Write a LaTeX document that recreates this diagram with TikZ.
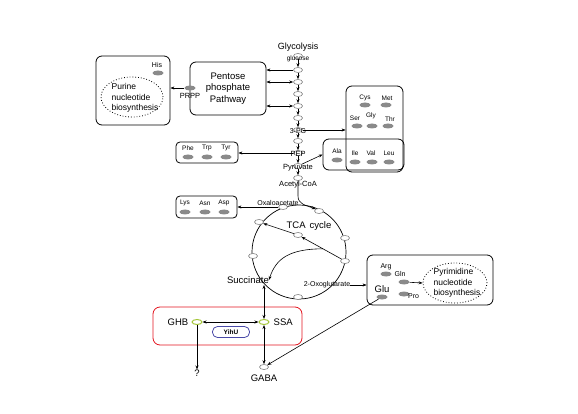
\documentclass[tikz,border=0pt]{standalone}
\usepackage{fontspec}
\setmainfont{Liberation Sans}
\usetikzlibrary{arrows.meta, positioning, calc, shapes.geometric}
\definecolor{cgray}{HTML}{8A8A8A}
\definecolor{cgreen}{HTML}{A4C639}
\definecolor{cblue}{HTML}{4A4AA8}
\definecolor{cred}{HTML}{E3141E}

\tikzset{
  met/.style={ellipse, draw=gray, fill=white, line width=0.6pt, minimum width=9pt, minimum height=5pt, inner sep=0pt},
  aa/.style={ellipse, fill=cgray, minimum width=11pt, minimum height=5pt, inner sep=0pt},
  hb/.style={ellipse, draw=cgreen, fill=white, line width=1pt, minimum width=10pt, minimum height=5pt, inner sep=0pt},
  panel/.style={draw, line width=0.8pt, rounded corners=6pt, inner sep=0pt},
  lbl/.style={font=\fontsize{7}{8}\selectfont, inner sep=0pt},
  aalbl/.style={font=\fontsize{6.5}{7}\selectfont, inner sep=0pt},
  big/.style={font=\fontsize{9.5}{11}\selectfont, inner sep=0pt},
  arr/.style={line width=0.6pt, -{Stealth[length=4pt,width=3pt]}},
  arrs/.style={line width=0.6pt, {Stealth[length=4pt,width=3pt]}-{Stealth[length=4pt,width=3pt]}},
}

\begin{document}
\begin{tikzpicture}[x=1pt, y=-1pt]
  \useasboundingbox (0,0) rectangle (578,414);

  % glycolysis chain
  \node[big, font=\fontsize{9}{10}\selectfont] (glyco) at (298,47) {Glycolysis};
  \foreach \n/\y in {0/56,1/70,2/82,3/94,4/106,5/118,6/130,7/141,8/153,9/166,10/178}
    \node[met] (g\n) at (298,\y) {};
  \foreach \a [evaluate=\a as \b using int(\a+1)] in {0,...,9}
    \draw[arr] (g\a) -- (g\b);
  \node[lbl, font=\fontsize{6.5}{7}\selectfont] (glc) at (298,59) {glucose};
  \node[lbl] (pg) at (298,131) {3-PG};
  \node[lbl, font=\fontsize{7.5}{8}\selectfont] (pep) at (298,154) {PEP};
  \node[lbl, font=\fontsize{7.5}{8}\selectfont] (pyr) at (298,168) {Pyruvate};
  \node[lbl, font=\fontsize{7.5}{8}\selectfont] (acoa) at (298,185) {Acetyl-CoA};

  % pentose phosphate pathway and purines
  \node[panel, minimum width=76pt, minimum height=53pt, align=center,
        font=\fontsize{9.5}{11.5}\selectfont] (ppp) at (228,88.5) {Pentose\\phosphate\\Pathway};
  \draw[arr] (g1) -- (g1 -| ppp.east);
  \draw[arrs] (g2 -| ppp.east) -- (g2);
  \draw[arrs] (g4 -| ppp.east) -- (g4);
  \node[panel, minimum width=74pt, minimum height=69pt] (purbox) at (133,90.5) {};
  \node[ellipse, draw, dotted, line width=0.8pt, minimum width=62pt, minimum height=40pt, inner sep=0pt] (purine) at (132,97) {};
  \node[align=left, font=\fontsize{8.5}{10.5}\selectfont, inner sep=0pt] (purtxt) at (135,98) {Purine\\nucleotide\\biosynthesis};
  \node[aalbl, font=\fontsize{7}{8}\selectfont] (hislbl) at (157,65) {His};
  \node[aa] (his) at (158,73) {};
  \node[aa] (prpp) at (190,88) {};
  \node[lbl, font=\fontsize{7.5}{8}\selectfont] (prpplbl) at (190,96) {PRPP};
  \draw[arr] (prpp) -- (purbox.east |- prpp);

  % amino acids from 3-PG and pyruvate
  \node[panel, minimum width=57pt, minimum height=86pt] (cysbox) at (374.5,129) {};
  \node[panel, minimum width=81pt, minimum height=31pt] (alabox) at (363.5,154.5) {};
  \foreach \t/\x/\y in {Cys/365/98, Met/387/98, Ser/355/118, Gly/371/116, Thr/390/119,
                        Ala/337/151, Ile/355/153, Val/371/153, Leu/389/153}
    \node[aalbl] (l\t) at (\x,\y) {\t};
  \foreach \t/\x/\y in {Cys/365/105, Met/386/105, Ser/357/126, Gly/372/126, Thr/388/126,
                        Ala/337/160, Ile/355/162, Val/372/162, Leu/389/162}
    \node[aa] (\t) at (\x,\y) {};
  \draw[arr] (g6) -- (cysbox.west |- g6);
  \draw[arr] (g9) -- (alabox.west);

  % aromatic amino acids from PEP
  \node[panel, rounded corners=4pt, minimum width=62pt, minimum height=21pt] (phebox) at (207,152.5) {};
  \foreach \t/\x in {Phe/188, Trp/207, Tyr/226} {
    \node[aalbl] (l\t) at (\x,148) {\t};
    \node[aa] (\t) at (\x,157) {};
  }
  \draw[arr] (g8) -- (phebox.east |- g8);

  % TCA cycle
  \draw[line width=0.7pt] (299,252) circle (47pt);
  \foreach \n/\x/\y in {1/283/207, 2/319/211, 3/345/238, 4/345/261, 5/298/297, 6/253/256, 7/259/222, in/298/235}
    \node[met] (t\n) at (\x,\y) {};
  \node[big, font=\fontsize{9.5}{11}\selectfont] (tca) at (309,226) {TCA\hspace{4pt}cycle};
  \draw[arr] (g10) -- (298,196) .. controls (298,204) and (305,205) .. (t2.north west);
  \node[lbl] (oaa) at (278,203) {Oxaloacetate};
  \node[panel, rounded corners=4pt, minimum width=61pt, minimum height=22pt] (lysbox) at (206.5,207) {};
  \foreach \t/\x in {Lys/185, Asn/205, Asp/224} {
    \node[aalbl] (l\t) at (\x,203) {\t};
    \node[aa] (\t) at (\x,212) {};
  }
  \draw[arr] (t1) -- (lysbox.east |- t1);
  \draw[arr] (t4) -- (tin);
  \draw[arr] (tin) -- (t7);
  \coordinate (branch) at ($(t4)!0.47!(tin)$);
  \node[big, anchor=east] (succ) at (269,280) {Succinate};
  \coordinate (succpt) at (264,285);
  \draw[arr] (branch) .. controls (290,249) and (276,258) .. (succ.east);
  \node[lbl] (oxg) at (327,285) {2-Oxoglutarate};

  % glutamate family and pyrimidines
  \node[panel, minimum width=126pt, minimum height=50pt] (glubox) at (430,280) {};
  \draw[arr] (oxg.east) -- (glubox.west |- oxg);
  \node[aalbl, font=\fontsize{7}{8}\selectfont] (lArg) at (386,267) {Arg};
  \node[aa] (Arg) at (386,274) {};
  \node[aalbl, font=\fontsize{7}{8}\selectfont] (lGln) at (400,274) {Gln};
  \node[aa] (Gln) at (404,282) {};
  \node[big, font=\fontsize{9.5}{11}\selectfont] (lGlu) at (382,289) {Glu};
  \node[aa] (Glu) at (382,297) {};
  \node[aa] (Pro) at (404,294) {};
  \node[aalbl, font=\fontsize{7}{8}\selectfont, anchor=west] (lPro) at (408,296) {Pro};
  \node[ellipse, draw, dotted, line width=0.8pt, minimum width=64pt, minimum height=40pt, inner sep=0pt] (pyrim) at (455,283) {};
  \node[align=left, font=\fontsize{8.5}{10.5}\selectfont, inner sep=0pt] (pyrtxt) at (457,283) {Pyrimidine\\nucleotide\\biosynthesis};
  \draw[arr] (Gln) -- (pyrim.west);

  % GABA shunt
  \node[draw=cred, line width=0.8pt, rounded corners=7pt, minimum width=149pt, minimum height=38pt] (redbox) at (227.5,326) {};
  \node[hb] (ghb) at (197,322) {};
  \node[hb] (ssa) at (264,322) {};
  \node[big, left=3pt of ghb] (ghblbl) {GHB};
  \node[big, right=4pt of ssa] (ssalbl) {SSA};
  \node[draw=cblue, line width=0.8pt, rounded corners=5pt, minimum width=37pt, minimum height=11pt,
        inner sep=0pt, font=\bfseries\fontsize{6.5}{7}\selectfont] (yihu) at (231,332) {YihU};
  \draw[arrs] (ghb) -- (ssa);
  \node[big] (unk) at (197,373) {?};
  \draw[arr] (ghb) -- (unk.north);
  \node[met] (gaba) at (264,367) {};
  \node[big] (gabalbl) at (264,378) {GABA};
  \draw[arrs] (succpt) -- (ssa);
  \draw[arrs] (ssa) -- (gaba);
  \draw[arr] (Glu) -- (gaba);
\end{tikzpicture}
\end{document}
